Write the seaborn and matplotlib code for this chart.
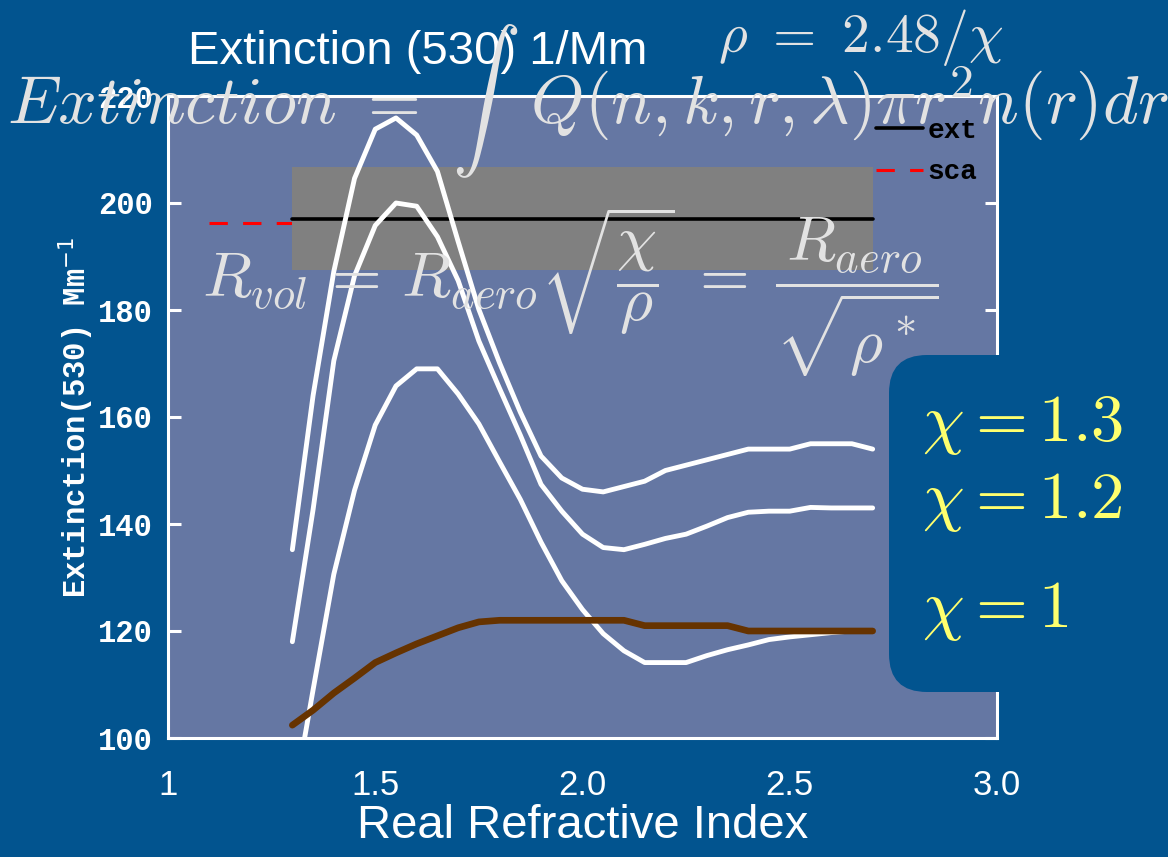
import numpy as np
import pandas as pd
import matplotlib
matplotlib.use("Agg")
import matplotlib.pyplot as plt
import seaborn as sns
from matplotlib.patches import FancyBboxPatch

# Real refractive index grid shared by all model curves
refr_index = [1.30, 1.35, 1.40, 1.45, 1.50, 1.55, 1.60, 1.65, 1.70, 1.75,
              1.80, 1.85, 1.90, 1.95, 2.00, 2.05, 2.10, 2.15, 2.20, 2.25,
              2.30, 2.35, 2.40, 2.45, 2.50, 2.55, 2.60, 2.65, 2.70]

# Modelled extinction (1/Mm) for three shape factors chi
ext_chi13 = [135.2, 164.0, 187.2, 204.6, 213.8, 215.9, 212.7, 205.9, 192.8, 180.1,
             170.1, 160.9, 152.7, 148.6, 146.5, 146.0, 147.0, 148.0, 150.0, 151.0,
             152.0, 153.0, 154.0, 154.0, 154.0, 155.0, 155.0, 155.0, 154.0]
ext_chi12 = [118.0, 142.7, 170.5, 186.4, 195.8, 200.0, 199.4, 193.7, 185.5, 174.2,
             165.3, 156.6, 147.4, 142.4, 138.1, 135.6, 135.2, 136.2, 137.3, 138.1,
             139.6, 141.2, 142.2, 142.4, 142.4, 143.1, 143.0, 143.0, 143.0]
ext_chi10 = [87.0, 109.0, 130.6, 146.3, 158.5, 165.8, 169.0, 169.0, 164.3, 158.7,
             151.6, 144.6, 136.6, 129.4, 124.0, 119.5, 116.3, 114.1, 114.1, 114.1,
             115.4, 116.5, 117.4, 118.4, 118.9, 119.3, 119.7, 120.0, 120.0]
# Mass-closure extinction curve
ext_closure = [102.4, 105.2, 108.4, 111.2, 114.1, 115.9, 117.6, 119.1, 120.6, 121.7,
               122.0, 122.0, 122.0, 122.0, 122.0, 122.0, 122.0, 121.0, 121.0, 121.0,
               121.0, 121.0, 120.0, 120.0, 120.0, 120.0, 120.0, 120.0, 120.0]

# Measured extinction with its uncertainty band, and measured scattering
band_span = [1.30, 2.70]
ext_level = 197.0
ext_low = 187.4
ext_high = 206.7
sca_span = [1.10, 2.70]
sca_level = 196.2

x_ticks = [1.0, 1.5, 2.0, 2.5, 3.0]
x_tick_labels = ["1", "1.5", "2.0", "2.5", "3.0"]
y_ticks = [100, 120, 140, 160, 180, 200, 220]
chi_labels = [r"$\chi = 1.3$", r"$\chi = 1.2$", r"$\chi = 1$"]

BG = "#02548f"
FACE = "#6577a3"
FORMULA = "#e2e2e2"
YELLOW = "#ffff6e"
BROWN = "#663300"

W, H = 1168, 857


def fx(x):
    return x / W


def fy(y):
    return 1 - y / H


sns.set_style("white")
plt.rcParams["font.family"] = ["Liberation Sans Narrow", "Liberation Sans", "DejaVu Sans"]

fig = plt.figure(figsize=(W / 100, H / 100), dpi=100, facecolor=BG)
ax = fig.add_axes([fx(168), fy(738), (997 - 168) / W, (738 - 96) / H])
ax.set_facecolor(FACE)

df = pd.DataFrame({
    "n": refr_index * 3,
    "ext": ext_chi13 + ext_chi12 + ext_chi10,
    "chi": ["1.3"] * len(refr_index) + ["1.2"] * len(refr_index) + ["1"] * len(refr_index),
})

ax.plot(sca_span, [sca_level] * 2, color="red", lw=2.2, dashes=(6, 5), zorder=1.5, label="sca")
ax.fill_between(band_span, ext_low, ext_high, color="#808080", lw=0, zorder=2)
ax.plot(band_span, [ext_level] * 2, color="black", lw=2.6, zorder=2.5, label="ext")

sns.lineplot(data=df, x="n", y="ext", hue="chi",
             palette={"1.3": "white", "1.2": "white", "1": "white"},
             estimator=None, sort=False, lw=3.5, legend=False, ax=ax, zorder=3)
sns.lineplot(x=refr_index, y=ext_closure, color=BROWN, lw=4.8,
             estimator=None, sort=False, legend=False, ax=ax, zorder=3.5)

ax.set_xlim(1, 3)
ax.set_ylim(100, 220)
ax.set_xticks(x_ticks)
ax.set_xticklabels(x_tick_labels)
ax.set_yticks(y_ticks)
ax.set_xlabel("Real Refractive Index", fontsize=34, color="white", labelpad=2)
ax.set_ylabel(r"Extinction(530) Mm$^{-1}$", fontsize=22, color="white",
              family="Liberation Mono", fontweight="bold")
ax.yaxis.set_label_coords(-0.087, 0.5)

for side in ["left", "right", "top", "bottom"]:
    ax.spines[side].set_color("white")
    ax.spines[side].set_linewidth(2.2)
ax.tick_params(axis="y", direction="in", length=9, width=2.2, color="white",
               left=True, right=True, labelsize=22, labelcolor="white", pad=11)
ax.tick_params(axis="x", length=0, pad=22, labelsize=25, labelcolor="white")
for lab in ax.get_yticklabels():
    lab.set_family("Liberation Mono")
    lab.set_fontweight("bold")

handles, labels = ax.get_legend_handles_labels()
order = [labels.index("ext"), labels.index("sca")]
leg = ax.legend([handles[i] for i in order], [labels[i] for i in order],
                loc="upper right", bbox_to_anchor=((1002 - 168) / 829, (738 - 93) / 642),
                frameon=False, handlelength=1.7, handletextpad=0.15, labelspacing=0.55,
                labelcolor="black",
                prop={"family": "Liberation Mono", "weight": "bold", "size": 20})

# Title and overlaid formulas
fig.text(fx(418), fy(52), "Extinction (530) 1/Mm", color="white", fontsize=34,
         ha="center", va="center")
fig.text(fx(861), fy(52), r"$\rho\ =\ 2.48/\chi$", color=FORMULA, fontsize=40,
         math_fontfamily="cm", ha="center", va="baseline", zorder=6)
fig.text(fx(588), fy(124), r"$Extinction\ =\ \int\ \ Q(n,k,r,\lambda)\pi r^2 n(r)dr$",
         color=FORMULA, fontsize=49, math_fontfamily="cm", ha="center", va="baseline", zorder=6)
fig.text(fx(202), fy(298),
         r"$R_{vol}\,=\,R_{aero}\sqrt{\dfrac{\chi}{\rho}}\;=\;\dfrac{R_{aero}}{\sqrt{\rho^*}}$",
         color=FORMULA, fontsize=46, math_fontfamily="cm", ha="left", va="baseline", zorder=6)

# Rounded panel holding the chi labels (inch coordinates keep the corners round)
panel = FancyBboxPatch((8.89, (H - 692) / 100), 4.0, (692 - 355) / 100,
                       boxstyle="round,pad=0,rounding_size=0.38",
                       transform=fig.dpi_scale_trans, facecolor=BG, edgecolor="none", zorder=4)
fig.patches.append(panel)
for lab, base in zip(chi_labels, [441, 518, 627]):
    fig.text(fx(922), fy(base), lab, color=YELLOW, fontsize=48, math_fontfamily="cm",
             ha="left", va="baseline", zorder=6)

fig.savefig("out.png", dpi=100, facecolor=BG)
